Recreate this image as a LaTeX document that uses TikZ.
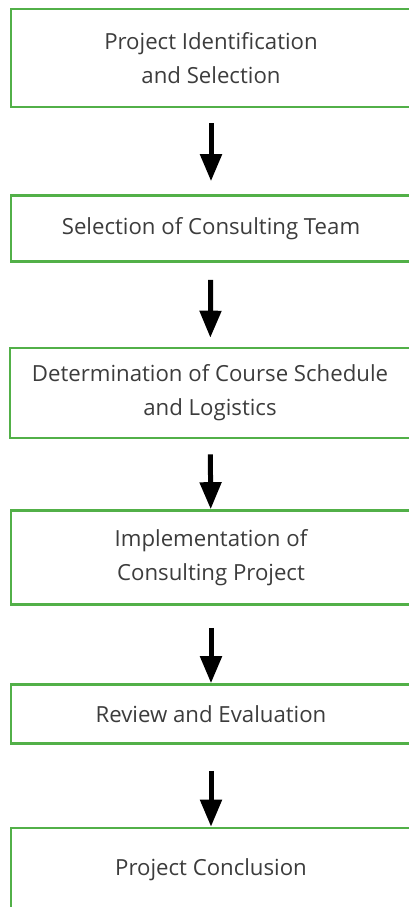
\documentclass[tikz,border=0pt]{standalone}
\usepackage{fontspec}
\setmainfont{Open Sans}
\usepackage{tikz}
\usepackage{xcolor}
\usetikzlibrary{arrows.meta,positioning}
\definecolor{stepGreen}{RGB}{82,176,72}
\definecolor{textGray}{RGB}{60,60,60}

\tikzset{
  stepbox/.style={draw=stepGreen, line width=2.6pt, rectangle, minimum width=400pt,
    align=center, text=textGray, font=\fontsize{22.2}{34}\selectfont},
  flow/.style={line width=5pt, -{Triangle[width=21pt,length=27pt]}}
}

\begin{document}
\begin{tikzpicture}[x=1pt,y=-1pt]
  \useasboundingbox (0,0) rectangle (409,907);
  \clip (0,0) rectangle (409,907);
  % steps, top to bottom
  \node[stepbox, minimum height=98pt] (ident) at (211,58) {Project Identification\\and Selection};
  \node[stepbox, minimum height=66pt] (team) at (211,228.5) {Selection of Consulting Team};
  \node[stepbox, minimum height=90pt] (sched) at (210,393) {Determination of Course Schedule\\and Logistics};
  \node[stepbox, minimum height=94pt] (impl) at (211,557.5) {Implementation of\\Consulting Project};
  \node[stepbox, minimum height=59pt] (review) at (211,714) {Review and Evaluation};
  \node[stepbox, minimum height=84pt] (concl) at (211,870) {Project Conclusion};
  % arrows between steps
  \draw[flow, shorten <=15pt, shorten >=13pt] (ident) -- (team);
  \draw[flow, shorten <=17pt, shorten >=9pt] (team) -- (sched);
  \draw[flow, shorten <=15pt] (sched) -- (impl);
  \draw[flow, shorten <=22pt] (impl) -- (review);
  \draw[flow, shorten <=26pt] (review) -- (concl);
\end{tikzpicture}
\end{document}
